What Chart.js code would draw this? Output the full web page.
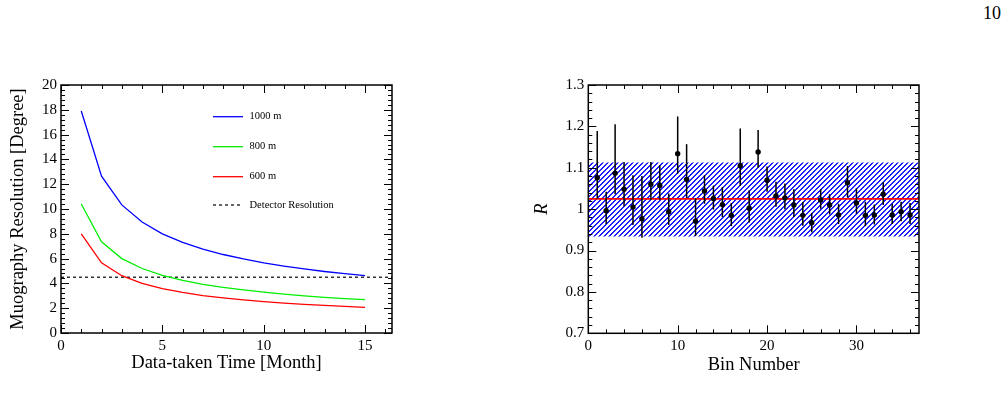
<!DOCTYPE html>
<html>
<head>
<meta charset="utf-8">
<script src="https://cdn.jsdelivr.net/npm/chart.js@4.4.0/dist/chart.umd.min.js"></script>
<style>
body { margin: 0; background: #fff; width: 1007px; height: 415px; overflow: hidden; position: relative; font-family: "Liberation Serif", serif; }
#pageNo { position: absolute; left: 983px; top: 3px; font-size: 18px; color: #000; }
#resChart { position: absolute; left: 0; top: 60px; }
#ratioChart { position: absolute; left: 520px; top: 60px; }
</style>
</head>
<body>
<div id="pageNo">10</div>
<canvas id="resChart" width="410" height="320"></canvas>
<canvas id="ratioChart" width="440" height="320"></canvas>
<script>
// left panel: muography resolution vs data-taken time
var months = [1, 2, 3, 4, 5, 6, 7, 8, 9, 10, 11, 12, 13, 14, 15];
var res1000 = [17.9, 12.65, 10.33, 8.95, 8.0, 7.31, 6.77, 6.33, 5.97, 5.66, 5.4, 5.17, 4.96, 4.78, 4.62];
var res800 = [10.4, 7.35, 6.0, 5.2, 4.65, 4.25, 3.93, 3.68, 3.47, 3.29, 3.14, 3.0, 2.88, 2.78, 2.69];
var res600 = [8.0, 5.66, 4.62, 4.0, 3.58, 3.27, 3.02, 2.83, 2.67, 2.53, 2.41, 2.31, 2.22, 2.14, 2.07];
var detectorRes = 4.5;
var resLabels = ['1000 m', '800 m', '600 m', 'Detector Resolution'];

// right panel: R per bin, with asymmetric error bars
var bins = [];
for (var b = 1; b <= 36; b++) bins.push(b);
var ratio = [1.076, 0.996, 1.087, 1.048, 1.005, 0.977, 1.060, 1.057, 0.994, 1.134, 1.072, 0.971,
             1.044, 1.026, 1.011, 0.985, 1.105, 1.002, 1.138, 1.070, 1.032, 1.027, 1.010, 0.985,
             0.967, 1.022, 1.010, 0.986, 1.064, 1.015, 0.985, 0.986, 1.036, 0.986, 0.994, 0.986];
var ratioHigh = [1.189, 1.042, 1.205, 1.114, 1.082, 1.080, 1.114, 1.106, 1.038, 1.224, 1.157, 1.027,
                 1.082, 1.057, 1.053, 1.015, 1.195, 1.045, 1.191, 1.103, 1.066, 1.062, 1.048, 1.017,
                 0.991, 1.048, 1.036, 1.013, 1.104, 1.050, 1.018, 1.011, 1.065, 1.013, 1.018, 1.015];
var ratioLow = [1.025, 0.964, 1.036, 1.007, 0.962, 0.931, 1.023, 1.023, 0.962, 1.086, 1.027, 0.935,
                1.013, 0.999, 0.981, 0.959, 1.056, 0.968, 1.100, 1.042, 1.006, 0.999, 0.981, 0.960,
                0.944, 1.001, 0.987, 0.964, 1.029, 0.989, 0.959, 0.963, 1.010, 0.964, 0.971, 0.964];
var fitValue = 1.025;
var bandHigh = 1.113;
var bandLow = 0.934;

var serif = '"Liberation Serif", "Times New Roman", serif';

function pts(xs, ys) {
    return xs.map(function (x, i) { return {x: x, y: ys[i]}; });
}

function fixedTicks(values) {
    return function (scale) {
        scale.ticks = values.map(function (v) { return {value: v}; });
    };
}

// ROOT-like frame with inward ticks on all four sides
function rootFrame(cfg) {
    return {
        id: 'rootFrame',
        afterDraw: function (chart) {
            var ctx = chart.ctx, a = chart.chartArea;
            var xs = chart.scales.x, ys = chart.scales.y;
            ctx.save();
            ctx.strokeStyle = '#000';
            ctx.lineWidth = 1;
            function each(scale, step, fn) {
                var n0 = Math.ceil(scale.min / step - 1e-6), n1 = Math.floor(scale.max / step + 1e-6);
                for (var n = n0; n <= n1; n++) fn(scale.getPixelForValue(n * step));
            }
            function xMarks(step, len) {
                each(xs, step, function (p) {
                    p = Math.round(p) + 0.5;
                    ctx.beginPath();
                    ctx.moveTo(p, a.bottom); ctx.lineTo(p, a.bottom - len);
                    ctx.moveTo(p, a.top); ctx.lineTo(p, a.top + len);
                    ctx.stroke();
                });
            }
            function yMarks(step, len) {
                each(ys, step, function (p) {
                    p = Math.round(p) + 0.5;
                    ctx.beginPath();
                    ctx.moveTo(a.left, p); ctx.lineTo(a.left + len, p);
                    ctx.moveTo(a.right, p); ctx.lineTo(a.right - len, p);
                    ctx.stroke();
                });
            }
            xMarks(cfg.xMinor, 4); xMarks(cfg.xMajor, 8);
            yMarks(cfg.yMinor, 4); yMarks(cfg.yMajor, 8);
            ctx.lineWidth = 1.5;
            ctx.strokeRect(a.left, a.top, a.right - a.left, a.bottom - a.top);
            ctx.restore();
        }
    };
}

function axisTitle(text, pad, italic) {
    return {display: true, text: text, color: '#000', padding: pad,
            font: {family: serif, size: 18.5, style: italic ? 'italic' : 'normal'}};
}

Chart.defaults.font.family = serif;
Chart.defaults.color = '#000';
Chart.defaults.animation = false;

// ---------- left chart ----------
var resLegend = {
    id: 'resLegend',
    afterDatasetsDraw: function (chart) {
        var ctx = chart.ctx;
        ctx.save();
        ctx.font = '10.5px ' + serif;
        ctx.textBaseline = 'middle';
        ctx.fillStyle = '#000';
        var rows = [56.7, 86.7, 116.7, 145];
        chart.data.datasets.forEach(function (ds, i) {
            ctx.strokeStyle = ds.borderColor;
            ctx.lineWidth = ds.borderWidth;
            ctx.setLineDash(ds.borderDash || []);
            ctx.beginPath();
            ctx.moveTo(213, rows[i]); ctx.lineTo(243, rows[i]);
            ctx.stroke();
            ctx.fillText(ds.label, 249.5, rows[i]);
        });
        ctx.restore();
    }
};

new Chart(document.getElementById('resChart'), {
    type: 'line',
    data: {
        datasets: [
            {label: resLabels[0], data: pts(months, res1000), borderColor: '#0000ff', borderWidth: 1.3},
            {label: resLabels[1], data: pts(months, res800), borderColor: '#00ee00', borderWidth: 1.3},
            {label: resLabels[2], data: pts(months, res600), borderColor: '#ff0000', borderWidth: 1.3},
            {label: resLabels[3], data: [{x: 0, y: detectorRes}, {x: 16.33, y: detectorRes}],
             borderColor: '#000', borderWidth: 1.2, borderDash: [3, 3]}
        ]
    },
    options: {
        responsive: false,
        layout: {autoPadding: false, padding: {left: 0, top: 25, right: 18, bottom: 0}},
        elements: {point: {radius: 0}, line: {tension: 0, fill: false}},
        plugins: {legend: {display: false}, tooltip: {enabled: false}},
        scales: {
            x: {
                type: 'linear', min: 0, max: 16.33,
                afterBuildTicks: fixedTicks([0, 5, 10, 15]),
                afterFit: function (s) { s.height = 47; },
                grid: {display: false, drawTicks: false}, border: {display: false},
                ticks: {padding: 4, font: {size: 15}, maxRotation: 0},
                title: axisTitle('Data-taken Time [Month]', {top: 0, bottom: 5.6})
            },
            y: {
                min: 0, max: 20,
                afterBuildTicks: fixedTicks([0, 2, 4, 6, 8, 10, 12, 14, 16, 18, 20]),
                afterFit: function (s) { s.width = 61; },
                grid: {display: false, drawTicks: false}, border: {display: false},
                ticks: {padding: 4, font: {size: 15}},
                title: axisTitle('Muography Resolution [Degree]', {top: 6.9, bottom: 0})
            }
        }
    },
    plugins: [resLegend, rootFrame({xMajor: 5, xMinor: 1, yMajor: 2, yMinor: 0.4})]
});

// ---------- right chart ----------
// crisp "/" hatch, a 2px blue stripe every 5px
function hatch() {
    var c = document.createElement('canvas');
    c.width = 5; c.height = 5;
    var g = c.getContext('2d');
    g.fillStyle = '#2020ff';
    for (var i = 0; i < 5; i++) {
        g.fillRect(i, 4 - i, 1, 1);
        g.fillRect((i + 1) % 5, 4 - i, 1, 1);
    }
    return g.createPattern(c, 'repeat');
}

var errorBars = {
    id: 'errorBars',
    afterDatasetsDraw: function (chart) {
        var ctx = chart.ctx, xs = chart.scales.x, ys = chart.scales.y;
        ctx.save();
        ctx.strokeStyle = '#000';
        ctx.lineWidth = 1.5;
        bins.forEach(function (b, i) {
            var px = xs.getPixelForValue(b);
            ctx.beginPath();
            ctx.moveTo(px, ys.getPixelForValue(ratioLow[i]));
            ctx.lineTo(px, ys.getPixelForValue(ratioHigh[i]));
            ctx.stroke();
        });
        ctx.restore();
    }
};

new Chart(document.getElementById('ratioChart'), {
    type: 'line',
    data: {
        datasets: [
            {data: [{x: 0, y: bandHigh}, {x: 37, y: bandHigh}], borderWidth: 0, borderColor: 'rgba(0,0,0,0)',
             fill: false, order: 4},
            {data: [{x: 0, y: bandLow}, {x: 37, y: bandLow}], borderWidth: 0, borderColor: 'rgba(0,0,0,0)',
             fill: '-1', backgroundColor: hatch(), order: 3},
            {data: [{x: 0, y: fitValue}, {x: 37, y: fitValue}], borderColor: '#ff0000', borderWidth: 1.8,
             fill: false, order: 2},
            {data: pts(bins, ratio), showLine: false, pointRadius: 2.7, pointBackgroundColor: '#000',
             pointBorderColor: '#000', pointBorderWidth: 0, fill: false, order: 1}
        ]
    },
    options: {
        responsive: false,
        layout: {autoPadding: false, padding: {left: 0, top: 25, right: 41, bottom: 0}},
        elements: {point: {radius: 0}, line: {tension: 0}},
        plugins: {legend: {display: false}, tooltip: {enabled: false}, filler: {propagate: false}},
        scales: {
            x: {
                type: 'linear', min: 0, max: 37,
                afterBuildTicks: fixedTicks([0, 10, 20, 30]),
                afterFit: function (s) { s.height = 46.7; },
                grid: {display: false, drawTicks: false}, border: {display: false},
                ticks: {padding: 4, font: {size: 15}, maxRotation: 0},
                title: axisTitle('Bin Number', {top: 0, bottom: 3.5})
            },
            y: {
                min: 0.7, max: 1.3,
                afterBuildTicks: fixedTicks([0.7, 0.8, 0.9, 1.0, 1.1, 1.2, 1.3]),
                afterFit: function (s) { s.width = 68.3; },
                grid: {display: false, drawTicks: false}, border: {display: false},
                ticks: {padding: 4, font: {size: 15},
                        callback: function (v) { return String(Number(v.toFixed(2))); }},
                title: axisTitle('R', {top: 10.6, bottom: 0}, true)
            }
        }
    },
    plugins: [errorBars, rootFrame({xMajor: 10, xMinor: 2, yMajor: 0.1, yMinor: 0.02})]
});
</script>
</body>
</html>
